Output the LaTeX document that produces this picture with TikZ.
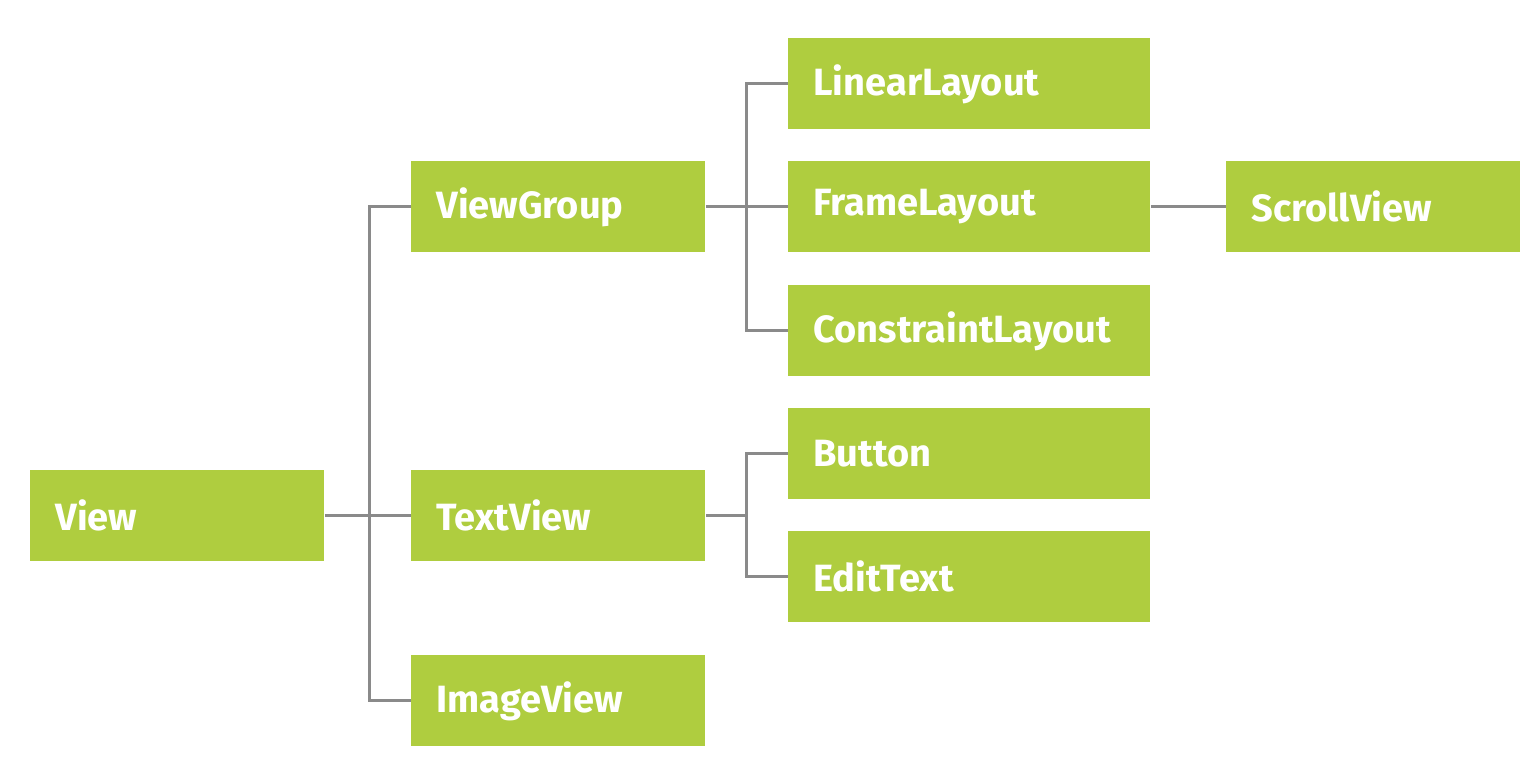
\documentclass[tikz,border=0pt]{standalone}
\usepackage{fontspec}
\setmainfont{Fira Sans}
\definecolor{boxgreen}{RGB}{175,205,63}
\definecolor{linegray}{RGB}{138,138,138}

\begin{document}
\begin{tikzpicture}[x=0.5pt,y=0.5pt,yscale=-1,xscale=1,
  box/.style={fill=boxgreen,text=white,anchor=north west,inner xsep=12.5pt,inner ysep=0pt,
    minimum height=45.5pt,align=left,font=\fontsize{19}{23}\selectfont\bfseries},
  narrowbox/.style={box,text width=122pt},
  widebox/.style={box,text width=156pt},
  link/.style={draw=linegray,line width=1.5pt}]
\useasboundingbox (0,0) rectangle (1536,774);
\draw (30,470) node (view) [narrowbox] {View};
\draw (411,161) node (viewgroup) [narrowbox] {ViewGroup};
\draw (411,470) node (textview) [narrowbox] {TextView};
\draw (411,655) node (imageview) [narrowbox] {ImageView};
\draw (788,38) node (linearlayout) [widebox] {LinearLayout};
\draw (788,161) node (framelayout) [widebox] {FrameLayout};
\draw (788,285) node (constraintlayout) [widebox] {ConstraintLayout};
\draw (788,408) node (button) [widebox] {Button};
\draw (788,531) node (edittext) [widebox] {EditText};
\draw (1226,161) node (scrollview) [narrowbox] {ScrollView};
\coordinate (trunk) at (746,454);
\draw [link] (viewgroup.west) -- +(-42,0) |- (imageview.west);
\draw [link] (view.east) -- (textview.west);
\draw [link] (linearlayout.west) -- +(-42,0) |- (constraintlayout.west);
\draw [link] (viewgroup.east) -- (framelayout.west);
\draw [link] (button.west) -- +(-42,0) |- (edittext.west);
\draw [link] (textview.east) -- (textview.east -| trunk);
\draw [link] (framelayout.east) -- (scrollview.west);
\end{tikzpicture}
\end{document}
